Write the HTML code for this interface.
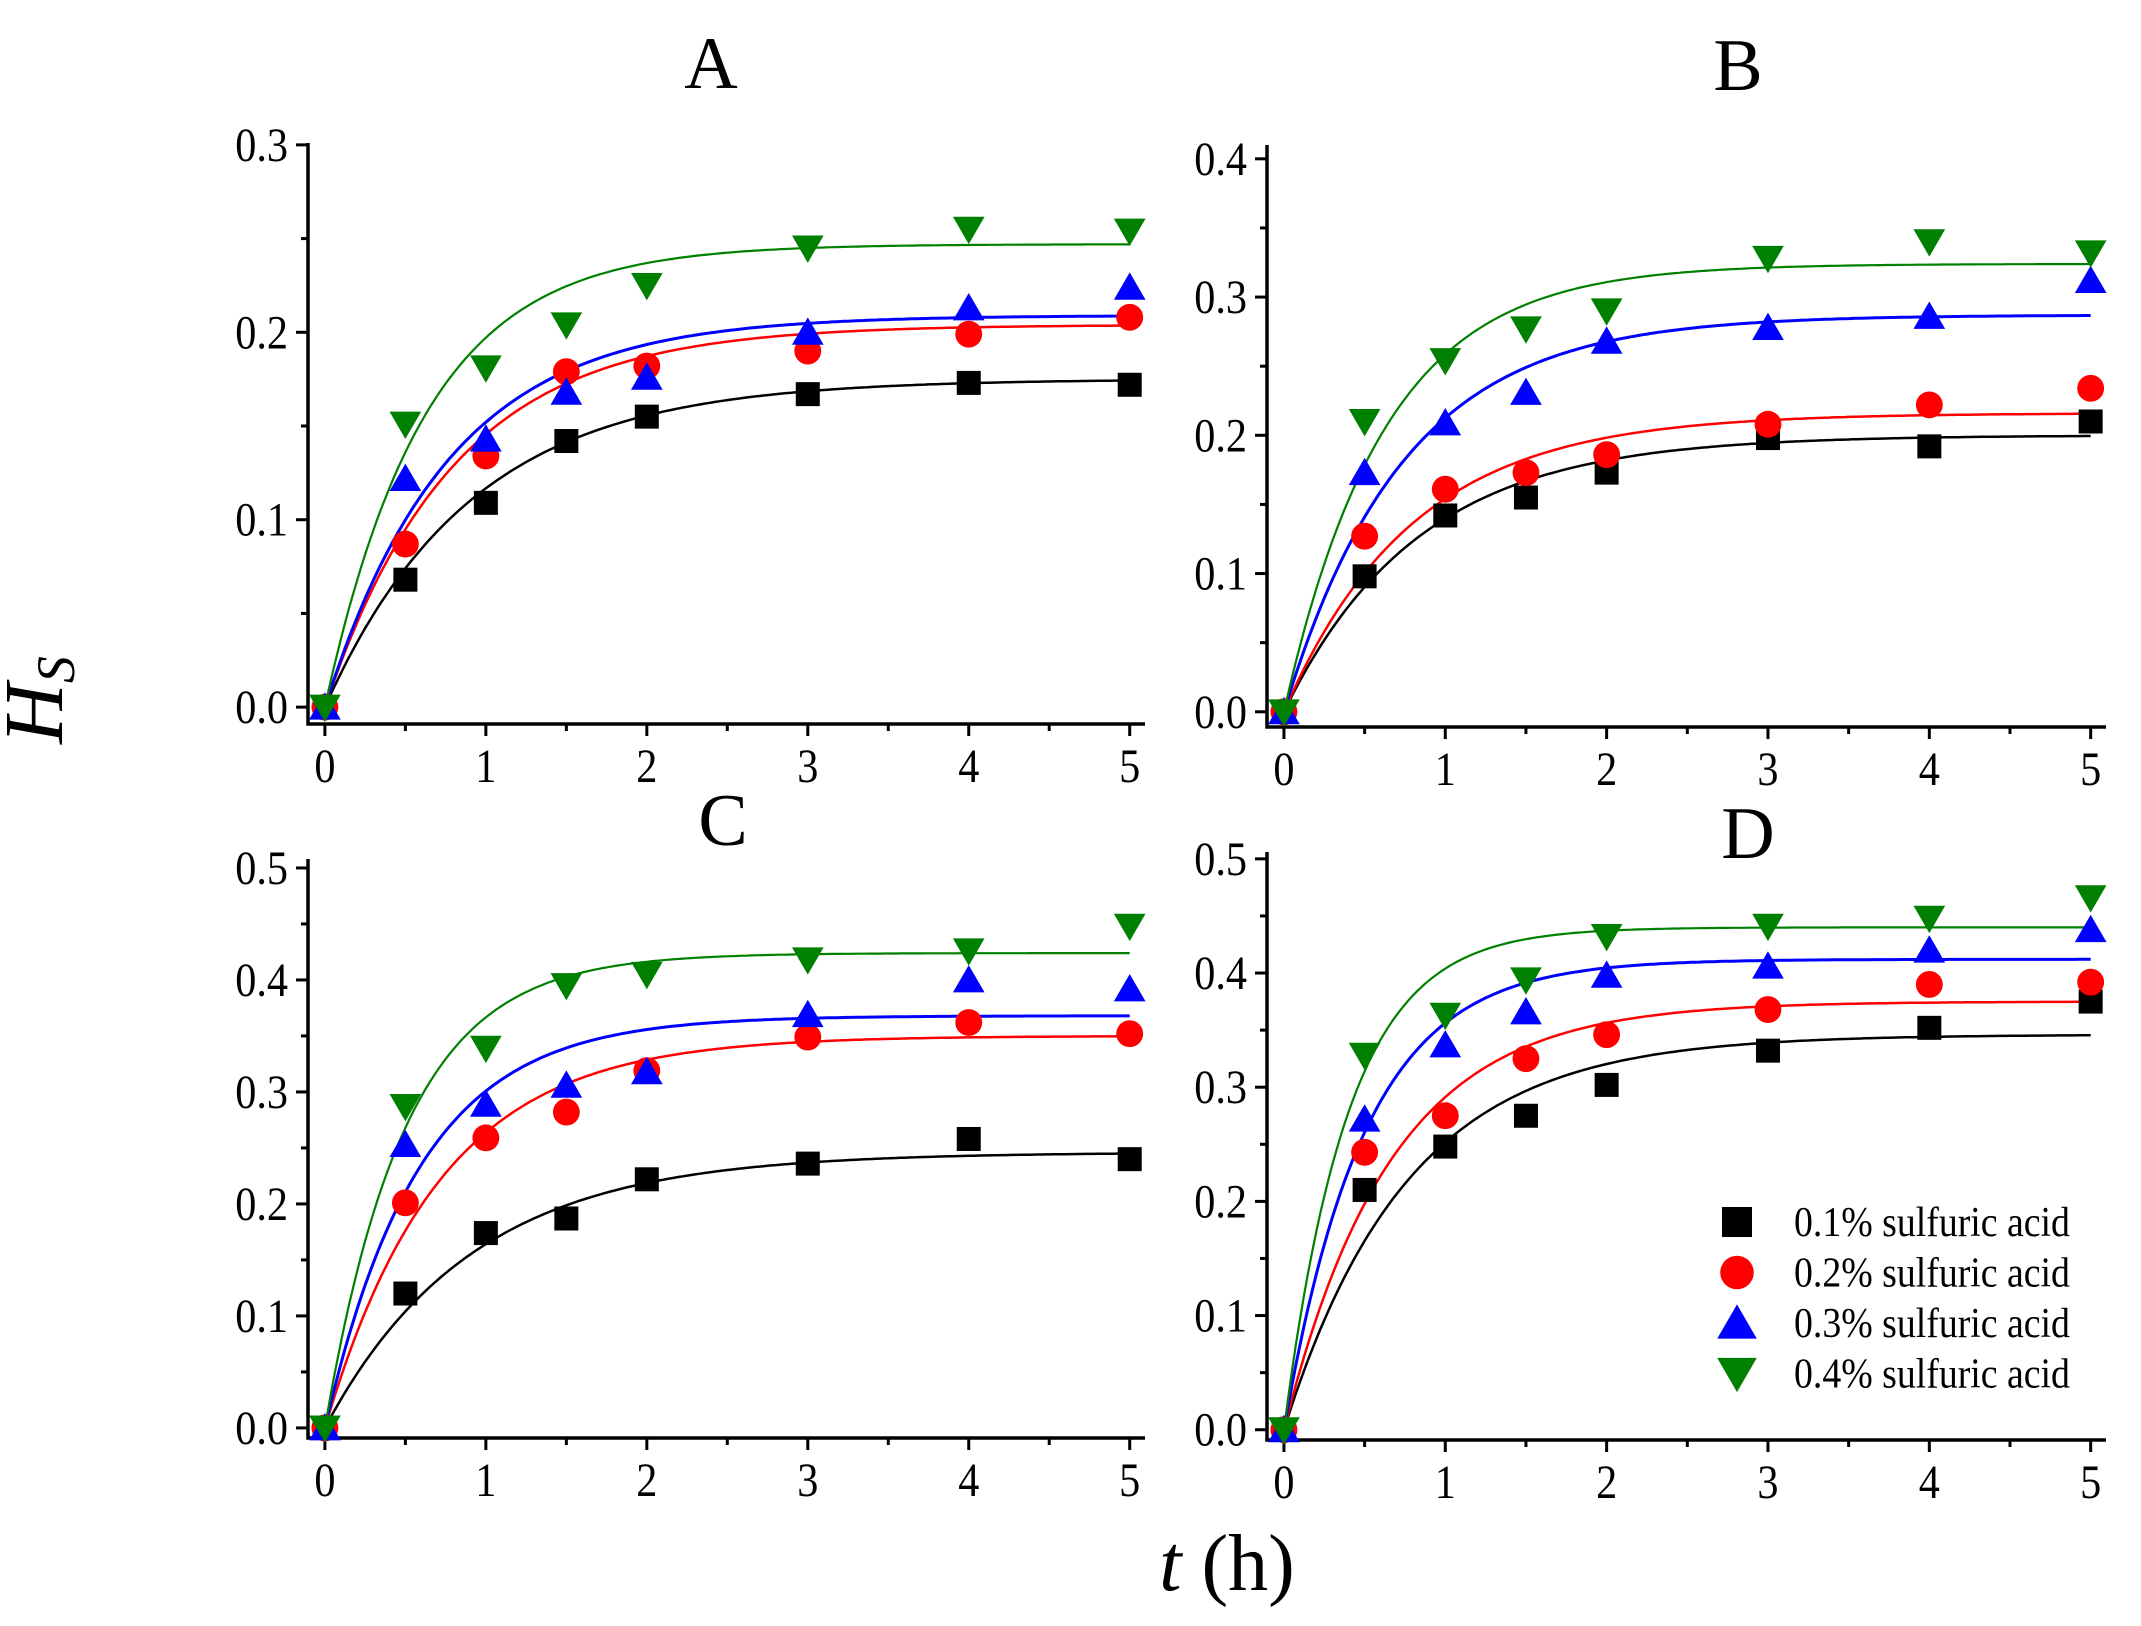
<!DOCTYPE html>
<html><head><meta charset="utf-8"><style>
html,body{margin:0;padding:0;background:#fff;}
svg{display:block;font-family:"Liberation Serif",serif;}
</style></head><body>
<svg id="chart" width="2141" height="1626" viewBox="0 0 2141 1626" xmlns="http://www.w3.org/2000/svg">
<text x="62" y="700" font-size="84" font-style="italic" transform="rotate(-90 62 700)" text-anchor="middle">H<tspan font-size="54" dy="12" font-style="italic">S</tspan></text>
<text x="1227" y="1590" font-size="80" text-anchor="middle"><tspan font-style="italic">t</tspan> (h)</text>
</svg>
<script>
const times = [0, 0.5, 1, 1.5, 2, 3, 4, 5];
const seriesNames = ["0.1% sulfuric acid","0.2% sulfuric acid","0.3% sulfuric acid","0.4% sulfuric acid"];
const panelA = [[0,.068,.109,.142,.155,.167,.173,.172],[0,.087,.134,.179,.182,.190,.199,.208],[0,.122,.143,.168,.176,.200,.213,.224],[0,.151,.181,.204,.225,.245,.255,.254]];
const panelB = [[0,.098,.142,.155,.173,.198,.192,.210],[0,.127,.161,.173,.186,.208,.222,.234],[0,.173,.209,.231,.268,.278,.286,.312],[0,.210,.254,.277,.290,.328,.340,.332]];
const panelC = [[0,.120,.174,.187,.222,.236,.258,.240],[0,.201,.259,.282,.319,.349,.362,.352],[0,.253,.289,.306,.318,.369,.400,.392],[0,.287,.339,.395,.405,.418,.426,.448]];
const panelD = [[0,.210,.248,.275,.302,.332,.352,.375],[0,.243,.275,.325,.346,.368,.390,.392],[0,.272,.337,.366,.398,.406,.420,.438],[0,.328,.363,.394,.432,.441,.448,.466]];
const fitA_amp = [.175,.204,.209,.247]; const fitA_k = [1.1,1.25,1.3,1.6];
const fitB_amp = [.200,.216,.287,.324]; const fitB_k = [1.2,1.25,1.35,1.6];
const fitC_amp = [.246,.350,.368,.424]; const fitC_k = [1.1,1.4,1.7,2.0];
const fitD_amp = [.346,.375,.412,.440]; const fitD_k = [1.3,1.5,2.0,2.5];
const xTicks = [0,1,2,3,4,5];
const yTicksA = [0,0.1,0.2,0.3];
const yTicksB = [0,0.1,0.2,0.3,0.4];
const yTicksCD = [0,0.1,0.2,0.3,0.4,0.5];

const NS = "http://www.w3.org/2000/svg";
const svg = document.getElementById("chart");
const colors = ["#000000","#ff0000","#0000ff","#008000"];
const lineW = [2.5,2.5,3,2.2];

function mk(tag, attrs, parent){
  const e = document.createElementNS(NS, tag);
  for (const k in attrs) e.setAttribute(k, attrs[k]);
  (parent||svg).appendChild(e);
  return e;
}
function stxt(parent, x, y, size, sx, anchor, str){
  const e = mk("text",{x:0,y:0,"font-size":size,"text-anchor":anchor,transform:`translate(${x},${y}) scale(${sx},1)`},parent);
  e.textContent = str;
  return e;
}
function marker(g, i, cx, cy, s){
  let e;
  if (i===0) e = mk("rect",{x:cx-s*0.5,y:cy-s*0.5,width:s,height:s,fill:colors[0]},g);
  else if (i===1) e = mk("circle",{cx:cx,cy:cy,r:s*0.56,fill:colors[1]},g);
  else if (i===2) e = mk("polygon",{points:`${cx},${cy-s*0.62} ${cx-s*0.66},${cy+s*0.52} ${cx+s*0.66},${cy+s*0.52}`,fill:colors[2]},g);
  else e = mk("polygon",{points:`${cx},${cy+s*0.62} ${cx-s*0.66},${cy-s*0.52} ${cx+s*0.66},${cy-s*0.52}`,fill:colors[3]},g);
  return e;
}

function panel(name, title, box, ymin, ymax, yTicks, data, amp, kk, titlePos){
  const g = mk("g",{});
  
  
  const xmin = -0.105, xmax = 5.095;
  const X = v => box.l + (v - xmin)/(xmax - xmin)*(box.r - box.l);
  const Y = v => box.b - (v - ymin)/(ymax - ymin)*(box.b - box.t);
  const t = stxt(g, titlePos[0], titlePos[1], 74, 1, "middle", title);
  
  
  const ax = mk("path",{d:`M${box.l},${box.t} L${box.l},${box.b} L${box.r},${box.b}`,stroke:"#000","stroke-width":3.5,fill:"none"},g);
  
  
  const step = yTicks[1]-yTicks[0];
  yTicks.forEach((v,idx)=>{
    const y = Y(v);
    mk("line",{x1:box.l-12,x2:box.l,y1:y,y2:y,stroke:"#000","stroke-width":3},g);
    if (idx < yTicks.length-1) { const ym = Y(v+step/2); mk("line",{x1:box.l-7,x2:box.l,y1:ym,y2:ym,stroke:"#000","stroke-width":3},g); }
    const lb = stxt(g, box.l-20, y+16, 48, 0.88, "end", v.toFixed(1));
    
    
  });
  xTicks.forEach((v,idx)=>{
    const x = X(v);
    mk("line",{x1:x,x2:x,y1:box.b,y2:box.b+12,stroke:"#000","stroke-width":3},g);
    if (idx < xTicks.length-1) { const xm = X(v+0.5); mk("line",{x1:xm,x2:xm,y1:box.b,y2:box.b+7,stroke:"#000","stroke-width":3},g); }
    const lb = stxt(g, x, box.b+58, 48, 0.88, "middle", String(v));
    
    
  });
  for (let i=0;i<4;i++){
    let d = "";
    for (let s=0;s<=200;s++){
      const tv = 5*s/200;
      const yv = amp[i]*(1-Math.exp(-kk[i]*tv));
      d += (s?"L":"M") + X(tv).toFixed(1) + "," + Y(yv).toFixed(1);
    }
    const p = mk("path",{d:d,stroke:colors[i],"stroke-width":lineW[i],fill:"none"},g);
    
    
  }
  for (let i=0;i<4;i++){
    data[i].forEach((v,j)=>{
      const m = marker(g, i, X(times[j]), Y(v), 24);
      
      
    });
  }
}

panel("a","A",{l:308,r:1145,t:143,b:724},-0.009,0.301,yTicksA,panelA,fitA_amp,fitA_k,[711,88]);
panel("b","B",{l:1267,r:2106,t:145,b:727},-0.011,0.41,yTicksB,panelB,fitB_amp,fitB_k,[1738,90]);
panel("c","C",{l:308,r:1145,t:859,b:1438},-0.009,0.508,yTicksCD,panelC,fitC_amp,fitC_k,[723,845]);
panel("d","D",{l:1267,r:2106,t:852,b:1440},-0.009,0.506,yTicksCD,panelD,fitD_amp,fitD_k,[1748,858]);

const lg = mk("g",{});


seriesNames.forEach((nm,i)=>{
  const y = 1222 + i*50.5;
  const m = marker(lg, i, 1737, y, 30);
  
  
  const tx = stxt(lg, 1794, y+14, 42, 0.9, "start", nm);
  
  
});
</script>
</body></html>
